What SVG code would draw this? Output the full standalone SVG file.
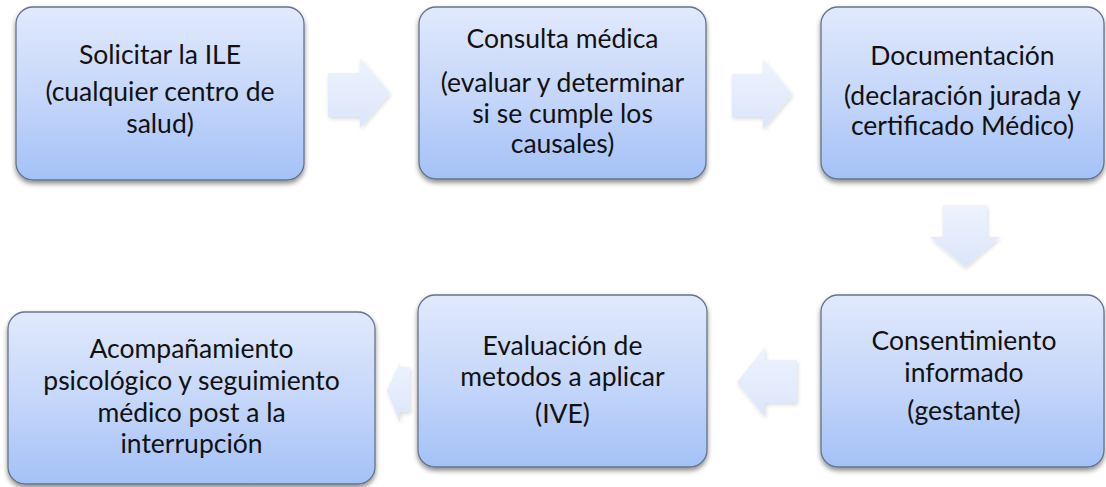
<svg xmlns="http://www.w3.org/2000/svg" width="1106" height="487" viewBox="0 0 1106 487">
<defs>
<linearGradient id="boxg" x1="0" y1="0" x2="0" y2="1">
<stop offset="0" stop-color="#e1e9fc"/>
<stop offset="0.5" stop-color="#c6d7fa"/>
<stop offset="1" stop-color="#a4c1f7"/>
</linearGradient>
<linearGradient id="arrg" x1="0" y1="0" x2="0" y2="1">
<stop offset="0" stop-color="#eef3fd"/>
<stop offset="1" stop-color="#dbe5fb"/>
</linearGradient>
<filter id="sh" x="-10%" y="-10%" width="120%" height="130%">
<feGaussianBlur in="SourceAlpha" stdDeviation="2.5"/>
<feOffset dx="0" dy="3" result="b"/>
<feComponentTransfer><feFuncA type="linear" slope="0.45"/></feComponentTransfer>
<feMerge><feMergeNode/><feMergeNode in="SourceGraphic"/></feMerge>
</filter>
<filter id="ash" x="-20%" y="-20%" width="150%" height="150%">
<feGaussianBlur in="SourceAlpha" stdDeviation="2"/>
<feOffset dx="1" dy="2"/>
<feComponentTransfer><feFuncA type="linear" slope="0.15"/></feComponentTransfer>
<feMerge><feMergeNode/><feMergeNode in="SourceGraphic"/></feMerge>
</filter>
</defs>
<style>
.box{fill:url(#boxg);stroke:#66748a;stroke-width:1.3;filter:url(#sh)}
.arr{fill:url(#arrg);stroke:none;filter:url(#ash)}
text{font-family:Lato,"Liberation Sans",sans-serif;font-size:26.5px;fill:#111;text-anchor:middle}
</style>
<g id="connectors">
<path class="arr" d="M328,73 H360 V58 L390,93 L360,128 V117 H328 Z"/>
<path class="arr" d="M732,74 H763 V59 L792,94 L763,129 V117 H732 Z"/>
<path class="arr" d="M943,205 H987 V237 H1000 L965,267 L930,237 H943 Z"/>
<path class="arr" d="M797,360 H765 V347 L737,382 L765,417 V403 H797 Z"/>
<path class="arr" d="M410,367 H400 V362 L387,390 L400,423 V412 H410 Z"/>
</g>
<g id="n1">
<rect class="box" x="16" y="7" width="288" height="173" rx="17"/>
<text x="160" y="64">Solicitar la ILE</text>
<text x="160" y="101">(cualquier centro de</text>
<text x="160" y="133">salud)</text>
</g>
<g id="n2">
<rect class="box" x="419" y="7" width="287" height="172" rx="17"/>
<text x="562.5" y="48">Consulta médica</text>
<text x="562.5" y="92">(evaluar y determinar</text>
<text x="562.5" y="123">si se cumple los</text>
<text x="562.5" y="153">causales)</text>
</g>
<g id="n3">
<rect class="box" x="821" y="7" width="283" height="172" rx="17"/>
<text x="962.5" y="65">Documentación</text>
<text x="962.5" y="105">(declaración jurada y</text>
<text x="962.5" y="135">certificado Médico)</text>
</g>
<g id="n4">
<rect class="box" x="821" y="295" width="283" height="172" rx="17"/>
<text x="964" y="350">Consentimiento</text>
<text x="964" y="382">informado</text>
<text x="964" y="420">(gestante)</text>
</g>
<g id="n5">
<rect class="box" x="418" y="295" width="289" height="172" rx="17"/>
<text x="562.5" y="355">Evaluación de</text>
<text x="562.5" y="386">metodos a aplicar</text>
<text x="562.5" y="423">(IVE)</text>
</g>
<g id="n6">
<rect class="box" x="8" y="312" width="367" height="172" rx="17"/>
<text x="191.5" y="358">Acompañamiento</text>
<text x="191.5" y="390">psicológico y seguimiento</text>
<text x="191.5" y="422">médico post a la</text>
<text x="191.5" y="453">interrupción</text>
</g>
</svg>
